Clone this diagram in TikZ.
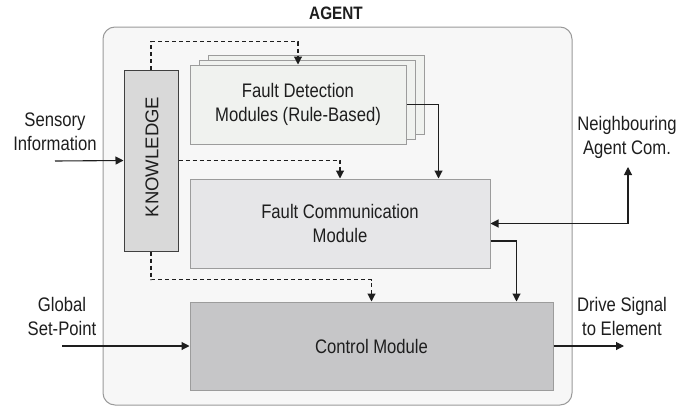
\documentclass[tikz,border=0pt]{standalone}
\usepackage{fontspec}
\setmainfont{Liberation Sans}
\newfontfamily\labfont{Liberation Sans}[FakeStretch=0.85]
\newfontfamily\kfont{Liberation Sans}
\usetikzlibrary{arrows.meta,calc}
\definecolor{bgagent}{HTML}{F7F7F7}
\definecolor{agentborder}{HTML}{9A9A9A}
\definecolor{kfill}{HTML}{D9D9D9}
\definecolor{fdfill}{HTML}{F0F2EF}
\definecolor{fcfill}{HTML}{E6E6E8}
\definecolor{cmfill}{HTML}{C6C6C8}
\definecolor{boxborder}{HTML}{9C9C9C}
\definecolor{ink}{HTML}{1E1E1E}
\tikzset{
  lab/.style={font=\labfont\fontsize{19.6}{24}\selectfont, text=ink, align=center, inner sep=0pt},
  modbox/.style={draw=boxborder, line width=1pt, inner sep=0pt, lab},
  arr/.style={draw=ink, line width=1.1pt, -{Triangle[length=8pt,width=8pt]}},
  darr/.style={arr, dash pattern=on 4pt off 3pt},
}
\begin{document}
\begin{tikzpicture}[x=1pt,y=-1pt]
\useasboundingbox (0,0) rectangle (696,407);
% agent container
\node[draw=agentborder, fill=bgagent, line width=1pt, rounded corners=12pt,
      minimum width=469pt, minimum height=378pt, inner sep=0pt] (agent) at (337.5,216) {};
\node[font=\labfont\fontsize{18}{20}\selectfont\bfseries, text=ink, inner sep=0pt] (title) at (336,13) {AGENT};
% fault detection stack
\node[modbox, fill=fdfill, minimum width=216pt, minimum height=79pt] (fd3) at (316,94.5) {};
\node[modbox, fill=fdfill, minimum width=216pt, minimum height=79pt] (fd2) at (307,99.5) {};
\node[modbox, fill=fdfill, minimum width=216pt, minimum height=79pt] (fd) at (298,104.5) {Fault Detection\\Modules (Rule-Based)};
% fault communication
\node[modbox, fill=fcfill, minimum width=300pt, minimum height=89pt] (fc) at (340,223.5) {Fault Communication\\Module};
% control module
\node[modbox, fill=cmfill, minimum width=363pt, minimum height=88pt] (cm) at (371.5,346) {Control Module};
% knowledge
\node[draw=ink!85, fill=kfill, line width=1pt, minimum width=54pt, minimum height=181pt, inner sep=0pt] (kn) at (151,160.5) {};
\node[rotate=90, font=\kfont\fontsize{18.5}{20}\selectfont, text=ink, inner sep=0pt] (knt) at (152,157) {KNOWLEDGE};
% external labels
\node[lab] (sens) at (55,132) {Sensory\\Information};
\node[lab] (glob) at (62,316.5) {Global\\Set-Point};
\node[lab] (neigh) at (627,137.5) {Neighbouring\\Agent Com.};
\node[lab] (drive) at (622,316.5) {Drive Signal\\to Element};
\coordinate (sensin) at (55,161);
\coordinate (globin) at (62,346);
\coordinate (driveout) at (624,346);
\coordinate (nbj) at (628,223.5);
\coordinate (nbtip) at (628,167);
% connectors
\draw[arr] (sensin) -- (kn.west);
\draw[arr] (globin) -- (cm.west);
\draw[arr] (cm.east) -- (driveout);
\draw[arr] (nbj) -- (nbtip);
\draw[arr] (nbj) -- (fc.east);
\draw[arr] (fd.east) -| ([xshift=249pt]fc.north west);
\draw[arr] ([yshift=-17.5pt]fc.east) -| ([xshift=327pt]cm.north west);
\draw[darr] (kn.north) -- ++(0,-28) -| (fd.north);
\draw[darr] (kn.east) -| (fc.north);
\draw[darr] (kn.south) -- ++(0,28) -| (cm.north);
\end{tikzpicture}
\end{document}
